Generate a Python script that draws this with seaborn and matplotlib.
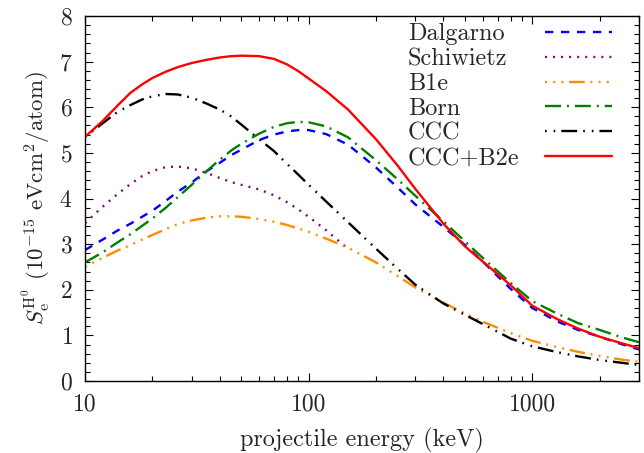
import matplotlib
matplotlib.use("Agg")
import matplotlib.pyplot as plt
import matplotlib.ticker as mticker
import seaborn as sns
import pandas as pd

# energies (keV) shared by most curves
energy = [10, 12, 14, 16, 18, 20, 23, 26, 30, 35, 40, 45, 50, 60, 70, 80, 90, 100,
          120, 150, 200, 250, 300, 400, 500, 600, 800, 1000, 1300, 1600, 2000, 2500, 3000]

dalgarno = [2.87, 3.1, 3.3, 3.45, 3.6, 3.73, 3.95, 4.15, 4.35, 4.6, 4.78, 4.95, 5.07, 5.28, 5.4, 5.47,
            5.5, 5.5, 5.41, 5.18, 4.68, 4.24, 3.87, 3.38, 2.98, 2.62, 2.02, 1.6, 1.3, 1.12, 0.97, 0.81, 0.69]
born = [2.6, 2.82, 3.04, 3.22, 3.4, 3.56, 3.8, 4.03, 4.3, 4.6, 4.85, 5.05, 5.2, 5.42, 5.57, 5.65,
        5.68, 5.67, 5.58, 5.34, 4.84, 4.42, 4.06, 3.5, 3.06, 2.7, 2.15, 1.75, 1.47, 1.27, 1.12, 0.96, 0.85]
b1e = [2.5, 2.7, 2.86, 2.98, 3.1, 3.2, 3.33, 3.44, 3.52, 3.58, 3.61, 3.61, 3.6, 3.55, 3.49, 3.42,
       3.34, 3.27, 3.12, 2.92, 2.6, 2.3, 2.05, 1.72, 1.48, 1.3, 1.05, 0.88, 0.74, 0.64, 0.55, 0.47, 0.42]
ccc = [5.35, 5.65, 5.9, 6.05, 6.17, 6.24, 6.29, 6.28, 6.21, 6.08, 5.95, 5.8, 5.62, 5.3, 5.04, 4.76,
       4.52, 4.3, 3.93, 3.48, 2.9, 2.46, 2.11, 1.7, 1.45, 1.25, 0.93, 0.76, 0.63, 0.54, 0.46, 0.4, 0.35]
ccc_b2e = [5.35, 5.7, 6.04, 6.32, 6.5, 6.64, 6.78, 6.88, 6.97, 7.04, 7.09, 7.12, 7.13, 7.12, 7.06, 6.94,
           6.79, 6.63, 6.35, 5.95, 5.3, 4.72, 4.21, 3.45, 2.95, 2.62, 2.1, 1.65, 1.35, 1.15, 0.97, 0.83, 0.72]

# Schiwietz only goes up to 150 keV
energy_sch = [10, 12, 14, 16, 18, 20, 23, 26, 30, 35, 40, 45, 50, 60, 70, 80, 90, 100, 120, 150]
schiwietz = [3.46, 3.82, 4.1, 4.32, 4.49, 4.6, 4.69, 4.7, 4.66, 4.56, 4.45, 4.36, 4.3, 4.2, 4.07,
             3.92, 3.76, 3.6, 3.3, 2.9]

labels = ["Dalgarno", "Schiwietz", "B1e", "Born", "CCC", "CCC+B2e"]

sns.set_theme(style="ticks")
plt.rcParams["font.family"] = ["cmr10", "DejaVu Serif"]
plt.rcParams["mathtext.fontset"] = "cm"
plt.rcParams["axes.formatter.use_mathtext"] = True
plt.rcParams["lines.scale_dashes"] = False

series = [
    (energy, dalgarno, "#0000ff", (0, (6, 5.5))),
    (energy_sch, schiwietz, "#800080", (0, (1.4, 4.4))),
    (energy, b1e, "#ff8c00", (0, (1.4, 4.5, 1.4, 4.5, 1.4, 4.1, 11.3, 4.1))),
    (energy, born, "#008000", (0, (11.5, 4.3, 1.4, 4.3))),
    (energy, ccc, "#000000", (0, (1.2, 5, 1.2, 4.3, 11.5, 4.3))),
    (energy, ccc_b2e, "#ff0000", "-"),
]

fig = plt.figure(figsize=(6.44, 4.53), dpi=100)
ax = fig.add_axes([85 / 644, 1 - 381 / 453, 554 / 644, 365 / 453])

for (x, y, col, ls), lab in zip(series, labels):
    df = pd.DataFrame({"E": x, "S": y})
    sns.lineplot(data=df, x="E", y="S", ax=ax, color=col, linestyle=ls, lw=1.7, label=lab)

ax.set_xscale("log")
ax.set_xlim(10, 3000)
ax.set_ylim(0, 8)
ax.xaxis.set_major_locator(mticker.FixedLocator([10, 100, 1000]))
ax.xaxis.set_major_formatter(mticker.FuncFormatter(lambda v, p: f"{v:g}"))
ax.xaxis.set_minor_locator(mticker.LogLocator(base=10, subs=range(2, 10)))
ax.xaxis.set_minor_formatter(mticker.NullFormatter())
ax.yaxis.set_major_locator(mticker.MultipleLocator(1))
ax.yaxis.set_minor_locator(mticker.MultipleLocator(0.2))

for sp in ax.spines.values():
    sp.set_visible(True)
    sp.set_color("black")
    sp.set_linewidth(1.0)
ax.tick_params(which="both", direction="in", top=True, right=True, color="black", width=0.8)
ax.tick_params(which="major", length=6, labelsize=17, pad=9)
ax.tick_params(which="minor", length=3.5)

ax.set_xlabel("projectile energy (keV)", fontsize=17.5, labelpad=9)
ax.set_ylabel(r"$S_{\mathrm{e}}^{\mathrm{H}^0}$ $(10^{-15}$ eVcm$^2$/atom$)$", fontsize=16.5, labelpad=4)

# legend: text left-aligned, line samples aligned on the right
handles, labs = ax.get_legend_handles_labels()
ax.get_legend().remove()
leg_txt = ax.legend(handles, labs, loc="upper left", bbox_to_anchor=((408 - 85) / 554, 0.98),
                    frameon=False, handlelength=0, handletextpad=0, borderpad=0,
                    borderaxespad=0, labelspacing=0.11, fontsize=17.5)
for h in leg_txt.legend_handles:
    h.set_visible(False)
ax.add_artist(leg_txt)
ax.legend(handles, [""] * len(handles), loc="upper right", bbox_to_anchor=((612 - 85) / 554, 0.98),
          frameon=False, handlelength=2.74, handletextpad=0, borderpad=0,
          borderaxespad=0, labelspacing=0.11, fontsize=17.5)

fig.savefig("out.png", dpi=100)
